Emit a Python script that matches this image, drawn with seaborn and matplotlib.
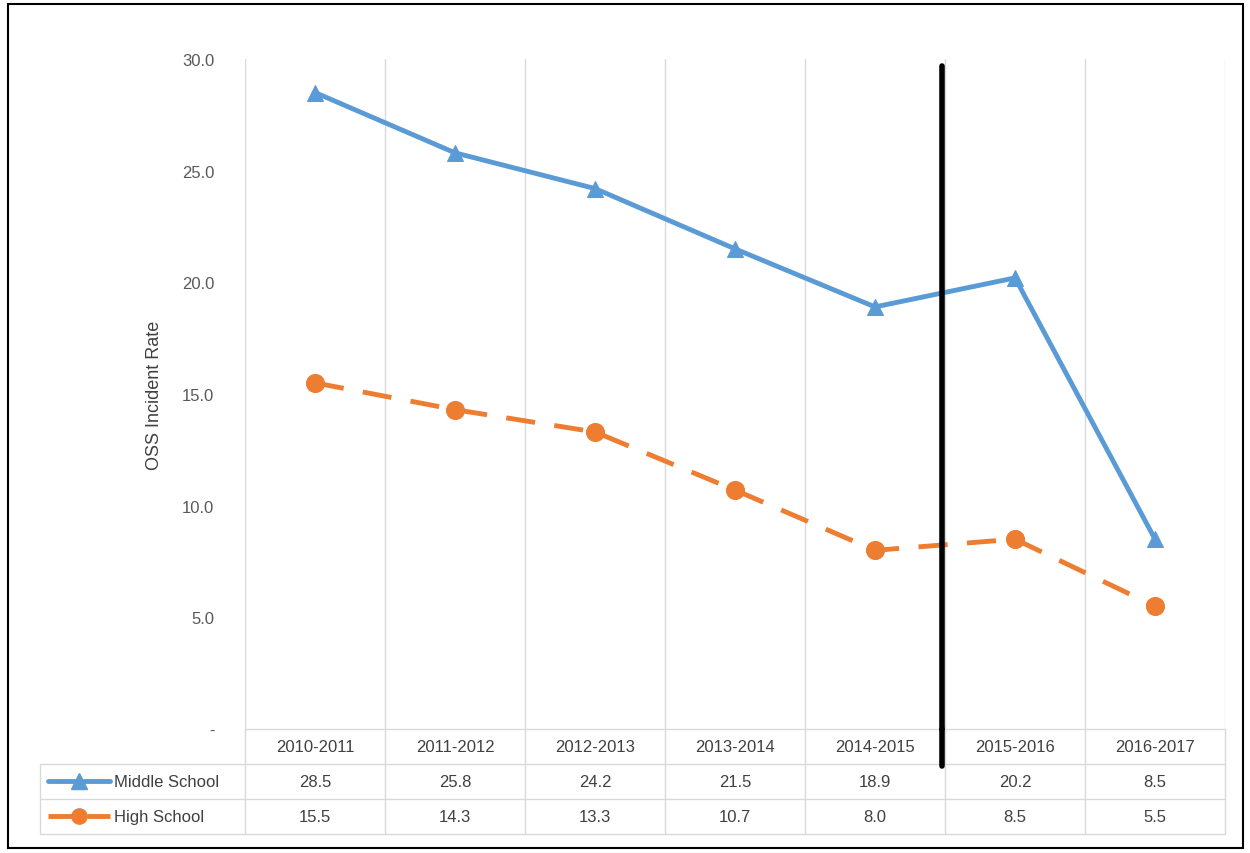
import matplotlib
matplotlib.use("Agg")
import matplotlib.pyplot as plt
import seaborn as sns
import pandas as pd
from matplotlib.patches import Rectangle

years = ['2010-2011', '2011-2012', '2012-2013', '2013-2014', '2014-2015', '2015-2016', '2016-2017']
middle = [28.5, 25.8, 24.2, 21.5, 18.9, 20.2, 8.5]
high = [15.5, 14.3, 13.3, 10.7, 8.0, 8.5, 5.5]

sns.set_theme(style='white')
plt.rcParams['font.family'] = ['Liberation Sans', 'DejaVu Sans']

blue = '#5B9BD5'
orange = '#ED7D31'
grid = '#D9D9D9'

fig = plt.figure(figsize=(12.5, 8.54), dpi=100)
ax = fig.add_axes([0.196, 0.1452, 0.784, 0.7845])

df = pd.DataFrame({'x': range(len(years)), 'Middle School': middle, 'High School': high})
sns.lineplot(data=df, x='x', y='Middle School', ax=ax, color=blue, lw=3.5,
             marker='^', markersize=12, markeredgecolor=blue)
sns.lineplot(data=df, x='x', y='High School', ax=ax, color=orange, lw=3.5,
             marker='o', markersize=13, markeredgecolor=orange, dashes=False)
ax.lines[-1].set_dashes([6, 4])

ax.set_xlim(-0.5, 6.5)
ax.set_ylim(0, 30)
ax.set_yticks([0, 5, 10, 15, 20, 25, 30])
ax.set_yticklabels(['-', '5.0', '10.0', '15.0', '20.0', '25.0', '30.0'], color='#595959', fontsize=12)
ax.tick_params(axis='y', length=0, pad=22)
ax.set_xticks([])
ax.set_xlabel('')
ax.set_ylabel('OSS Incident Rate', fontsize=13, color='#404040', labelpad=14)
for s in ax.spines.values():
    s.set_visible(False)

for b in [x - 0.5 for x in range(8)]:
    ax.axvline(b, color=grid, lw=1, zorder=0)

# data table below plot
tr = ax.get_xaxis_transform()
rh = 35 / 670.0
x_left = (40 - 245) / 140.0 - 0.5
for r in range(4):
    y = -r * rh
    x0 = -0.5 if r == 0 else x_left
    ax.plot([x0, 6.5], [y, y], color=grid, lw=1, transform=tr, clip_on=False)
ax.plot([x_left, x_left], [-rh, -3 * rh], color=grid, lw=1, transform=tr, clip_on=False)
for b in [x - 0.5 for x in range(8)]:
    ax.plot([b, b], [0, -3 * rh], color=grid, lw=1, transform=tr, clip_on=False)

for i, yr in enumerate(years):
    ax.text(i, -0.5 * rh, yr, transform=tr, ha='center', va='center', fontsize=12, color='#404040')
    ax.text(i, -1.5 * rh, f'{middle[i]:.1f}', transform=tr, ha='center', va='center', fontsize=12, color='#404040')
    ax.text(i, -2.5 * rh, f'{high[i]:.1f}', transform=tr, ha='center', va='center', fontsize=12, color='#404040')

lx0, lx1 = x_left + 0.06, x_left + 0.5
ax.plot([lx0, lx1], [-1.5 * rh] * 2, color=blue, lw=3.5, transform=tr, clip_on=False)
ax.plot([(lx0 + lx1) / 2], [-1.5 * rh], marker='^', color=blue, ms=11, transform=tr, clip_on=False)
ax.plot([lx0, lx1], [-2.5 * rh] * 2, color=orange, lw=3.5, dashes=[5, 3], transform=tr, clip_on=False)
ax.plot([(lx0 + lx1) / 2], [-2.5 * rh], marker='o', color=orange, ms=11, transform=tr, clip_on=False)
ax.text(lx1 + 0.03, -1.5 * rh, 'Middle School', transform=tr, va='center', fontsize=12, color='#404040')
ax.text(lx1 + 0.03, -2.5 * rh, 'High School', transform=tr, va='center', fontsize=12, color='#404040')

# black separator line
sep = 4.48
ax.plot([sep, sep], [29.7, 0], color='black', lw=4, zorder=5, clip_on=False)
ax.plot([sep, sep], [0, -1.05 * rh], color='black', lw=4, transform=tr, clip_on=False)

fig.patches.append(Rectangle((0.006, 0.006), 0.988, 0.988, transform=fig.transFigure,
                             fill=False, ec='black', lw=1.5))
fig.savefig('out.png', dpi=100)
